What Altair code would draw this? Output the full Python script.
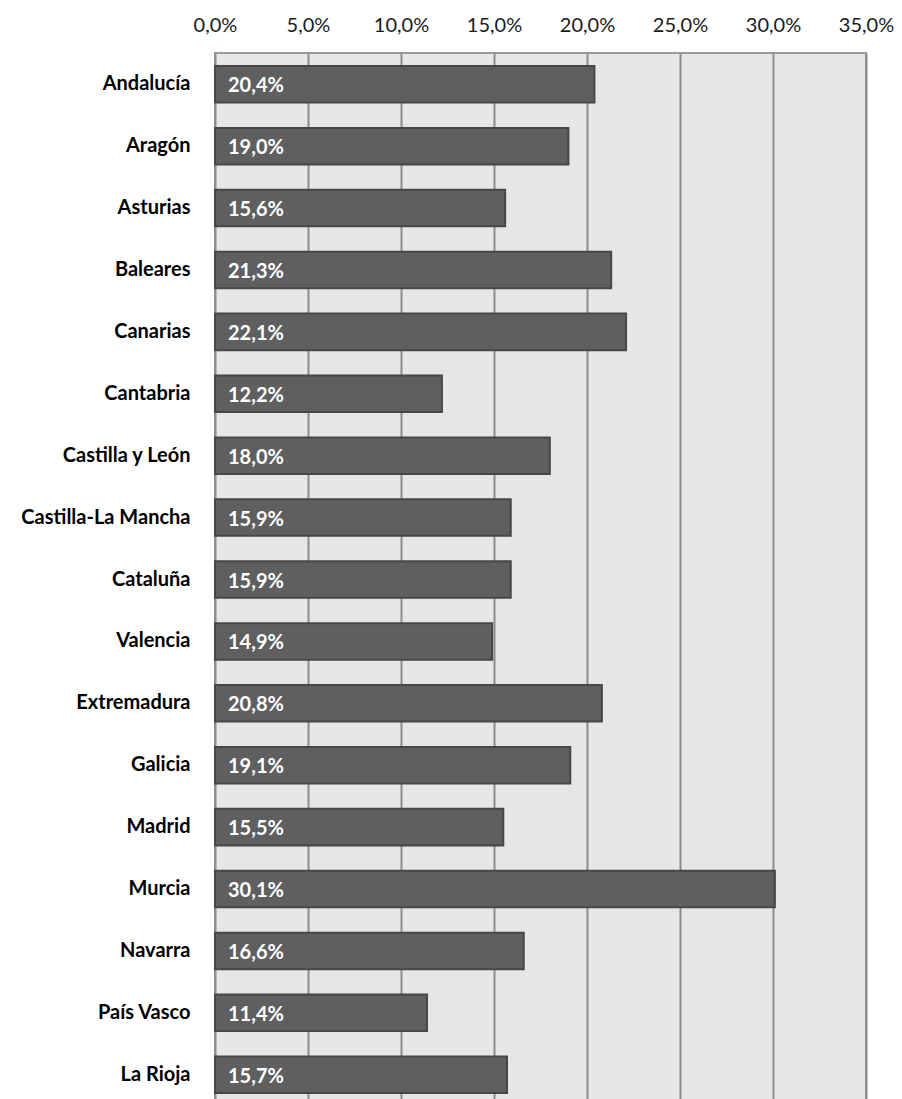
import altair as alt
import pandas as pd

regions = ["Andalucía", "Aragón", "Asturias", "Baleares", "Canarias", "Cantabria",
           "Castilla y León", "Castilla-La Mancha", "Cataluña", "Valencia",
           "Extremadura", "Galicia", "Madrid", "Murcia", "Navarra", "País Vasco", "La Rioja"]
values = [20.4, 19.0, 15.6, 21.3, 22.1, 12.2, 18.0, 15.9, 15.9, 14.9,
          20.8, 19.1, 15.5, 30.1, 16.6, 11.4, 15.7]
ticks = [0, 5, 10, 15, 20, 25, 30, 35]

df = pd.DataFrame({"region": regions, "value": values})
df["label"] = [f"{v:.1f}".replace(".", ",") + "%" for v in values]

FONT = "Lato"

y_enc = alt.Y("region:N", sort=regions,
              scale=alt.Scale(paddingInner=0.41, paddingOuter=0.21),
              axis=alt.Axis(title=None, ticks=False, domain=False, labelPadding=25,
                            labelFont=FONT, labelFontSize=20, labelFontWeight="bold",
                            labelColor="#000000", grid=False))

x_enc = alt.X("value:Q", scale=alt.Scale(domain=[0, 35], nice=False),
              axis=alt.Axis(orient="top", title=None, values=ticks, ticks=False,
                            domain=False, labelPadding=18, labelFont=FONT,
                            labelFontSize=20, labelColor="#1a1a1a",
                            labelFlush=False, labelOverlap=False, labelBound=False,
                            labelExpr="replace(format(datum.value, '.1f'), '.', ',') + '%'",
                            grid=True, gridColor="#8c8c8c", gridWidth=2, gridOpacity=1))

bars = alt.Chart(df).mark_bar(color="#5f5f5f", stroke="#474747", strokeWidth=2).encode(
    x=x_enc, y=y_enc)

labels = alt.Chart(df).mark_text(align="left", baseline="middle", dx=13, dy=2,
                                 font=FONT, fontSize=20, fontWeight="bold",
                                 color="#ffffff").encode(
    x=alt.datum(0), y=alt.Y("region:N", sort=regions), text="label:N")

chart = alt.layer(bars, labels).properties(
    width=651, height=1053,
    autosize=alt.AutoSizeParams(type="none"),
    padding={"left": 215, "top": 53, "right": 36, "bottom": 0},
    background="#ffffff",
).configure_view(fill="#e6e6e6", stroke="#9a9a9a", strokeWidth=2)

chart.save("out.html", embed_options={"renderer": "svg", "actions": False})
